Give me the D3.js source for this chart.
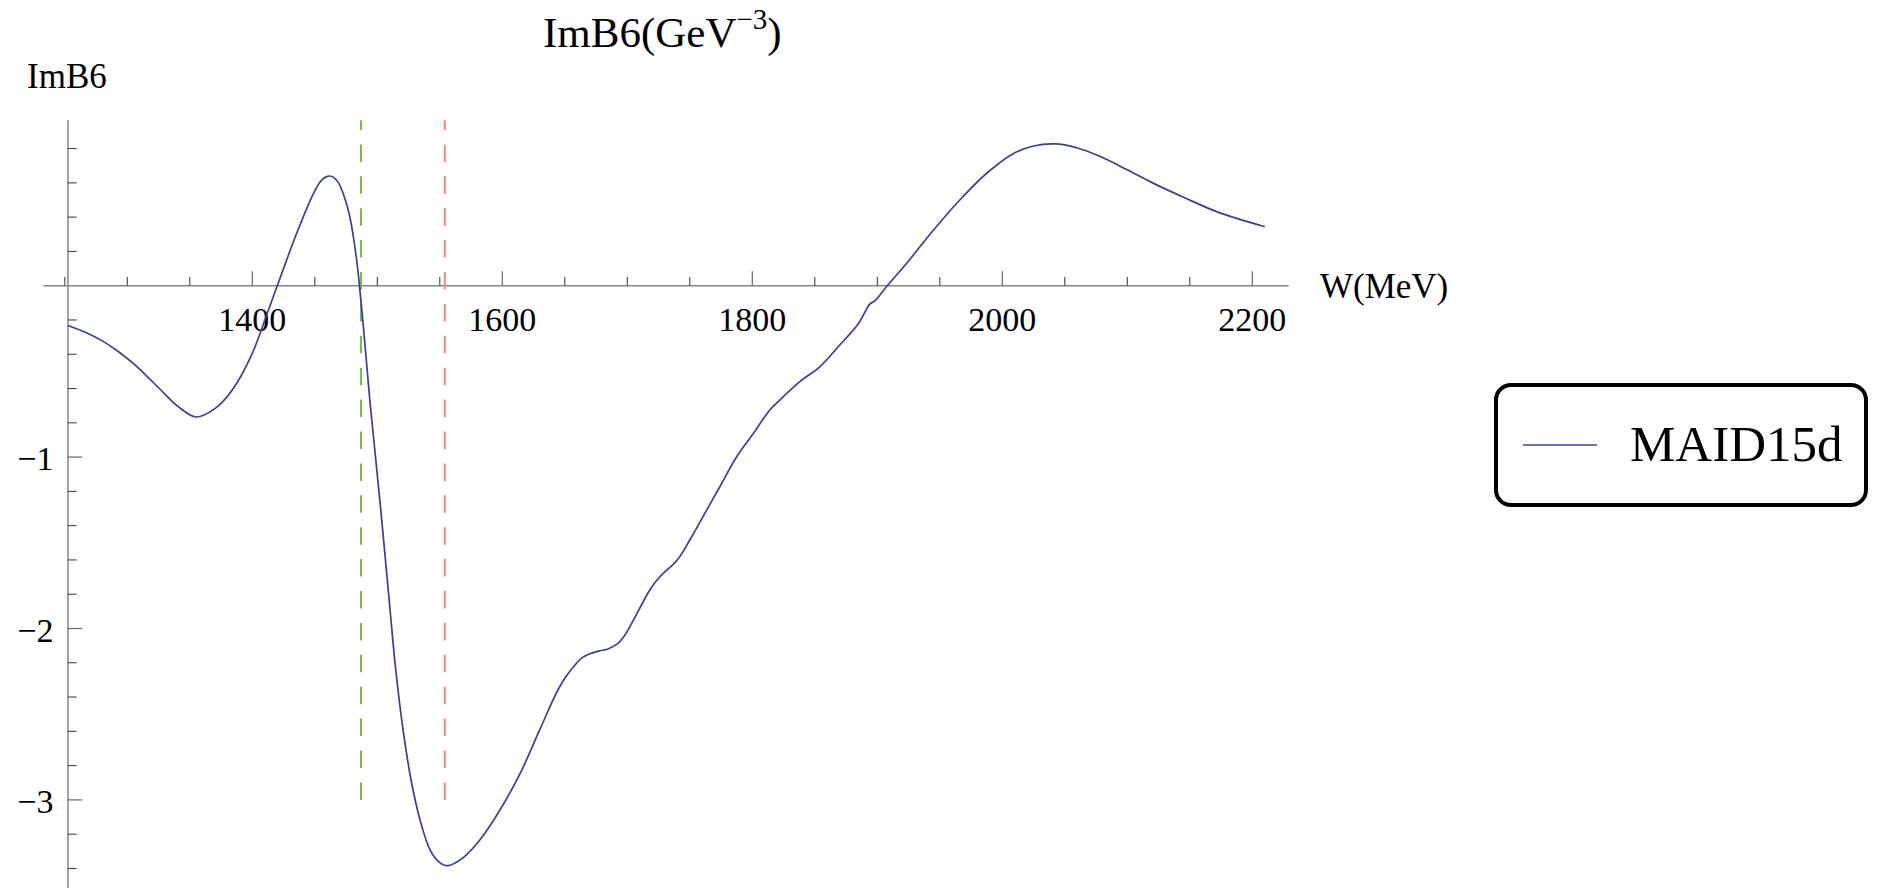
<!DOCTYPE html>
<html>
<head>
<meta charset="utf-8">
<script src="https://cdn.jsdelivr.net/npm/d3@7/dist/d3.min.js"></script>
<style>
  html, body { margin: 0; padding: 0; background: #fff; }
  svg { display: block; font-family: "Liberation Serif", "DejaVu Serif", serif; }
</style>
</head>
<body>
<svg id="chart" width="1881" height="888"></svg>
<script>
// MAID15d: imaginary part of amplitude B6 versus W
const energyW = [1252.5, 1266, 1280, 1293, 1305, 1316, 1327, 1341, 1355, 1370, 1384,
  1399, 1413, 1420, 1435.5, 1449, 1455, 1459, 1462, 1465, 1469, 1474, 1478, 1483.5, 1486, 1489,
  1494, 1502, 1509.5, 1514.5, 1521, 1527.5, 1534.2, 1542.2, 1549, 1556, 1569, 1582, 1598, 1614,
  1630, 1643, 1650, 1657, 1664, 1671, 1678, 1684, 1692, 1698, 1705, 1718, 1726, 1740, 1750, 1763.5,
  1774, 1787.5, 1801, 1814, 1822, 1838, 1854, 1870, 1885, 1894, 1898, 1908, 1923.5, 1945,
  1966, 1987.5, 2009, 2025, 2042, 2059.5, 2078, 2099.5, 2121, 2145, 2171.5, 2210];
const imB6 = [-0.232, -0.27, -0.322, -0.385, -0.455, -0.53, -0.61, -0.707, -0.766, -0.717, -0.608,
  -0.411, -0.14, 0.0, 0.306, 0.539, 0.612, 0.635, 0.64, 0.632, 0.6, 0.51, 0.403, 0.15, -0.02, -0.25,
  -0.667, -1.25, -1.834, -2.223, -2.612, -2.903, -3.117, -3.292, -3.36, -3.384, -3.335, -3.234, -3.06, -2.85,
  -2.59, -2.38, -2.29, -2.223, -2.17, -2.145, -2.13, -2.121, -2.09, -2.04, -1.95, -1.775, -1.698, -1.6, -1.484, -1.309,
  -1.173, -0.998, -0.861, -0.725, -0.667, -0.56, -0.473, -0.346, -0.22, -0.107, -0.089, 0.0, 0.131, 0.325,
  0.5, 0.656, 0.772, 0.815, 0.827, 0.805, 0.755, 0.678, 0.597, 0.516, 0.432, 0.344];

// threshold markers (W in MeV)
const markerW = [1487, 1554];
const markerColors = ["#6cbf45", "#f58585"];

const xMajorTicks = [1400, 1600, 1800, 2000, 2200];
const xMinorTicks = [1250, 1300, 1350, 1450, 1500, 1550, 1650, 1700, 1750, 1850, 1900, 1950, 2050, 2100, 2150];
const yMajorTicks = [-1, -2, -3];
const yMinorTicks = [0.8, 0.6, 0.4, 0.2, -0.2, -0.4, -0.6, -0.8, -1.2, -1.4, -1.6, -1.8,
  -2.2, -2.4, -2.6, -2.8, -3.2, -3.4];

const seriesName = "MAID15d";

const svg = d3.select("#chart");

const x = d3.scaleLinear().domain([1400, 2200]).range([252.3, 1252.3]);
const y = d3.scaleLinear().domain([0, -3]).range([285.7, 799.9]);

const xAxisStart = 1233, xAxisEnd = 2229;
const yAxisTop = 0.965;
const x0 = x(energyW[0]);
const yZero = y(0);

const lineColor = "#3d3d99";
const axisColor = "#858585";

// axes lines
svg.append("line")
  .attr("x1", x(xAxisStart)).attr("x2", x(xAxisEnd))
  .attr("y1", yZero).attr("y2", yZero)
  .attr("stroke", axisColor).attr("stroke-width", 1.5);
svg.append("line")
  .attr("x1", x0).attr("x2", x0)
  .attr("y1", y(yAxisTop)).attr("y2", 888)
  .attr("stroke", axisColor).attr("stroke-width", 1.5);

// x ticks (pointing up)
svg.selectAll(".xmaj").data(xMajorTicks).enter().append("line")
  .attr("x1", d => x(d)).attr("x2", d => x(d))
  .attr("y1", yZero).attr("y2", yZero - 14.4)
  .attr("stroke", "#666").attr("stroke-width", 1.2);
svg.selectAll(".xmin").data(xMinorTicks).enter().append("line")
  .attr("x1", d => x(d)).attr("x2", d => x(d))
  .attr("y1", yZero).attr("y2", yZero - 8.7)
  .attr("stroke", "#333").attr("stroke-width", 1);
svg.selectAll(".xlab").data(xMajorTicks).enter().append("text")
  .attr("x", d => x(d)).attr("y", 331)
  .attr("text-anchor", "middle")
  .attr("font-size", 34).attr("fill", "#000")
  .text(d => d);

// y ticks (pointing right)
svg.selectAll(".ymaj").data(yMajorTicks).enter().append("line")
  .attr("x1", x0).attr("x2", x0 + 14.3)
  .attr("y1", d => y(d)).attr("y2", d => y(d))
  .attr("stroke", "#666").attr("stroke-width", 1.2);
svg.selectAll(".ymin").data(yMinorTicks).enter().append("line")
  .attr("x1", x0).attr("x2", x0 + 8.7)
  .attr("y1", d => y(d)).attr("y2", d => y(d))
  .attr("stroke", "#333").attr("stroke-width", 1);
svg.selectAll(".ylab").data(yMajorTicks).enter().append("text")
  .attr("x", 53.5).attr("y", d => y(d) + 13.2)
  .attr("text-anchor", "end")
  .attr("font-size", 34).attr("fill", "#000")
  .text(d => "\u2212" + Math.abs(d));

// threshold dashed lines
svg.selectAll(".marker").data(markerW).enter().append("line")
  .attr("x1", d => x(d)).attr("x2", d => x(d))
  .attr("y1", y(-3)).attr("y2", y(yAxisTop))
  .attr("stroke", (d, i) => markerColors[i])
  .attr("stroke-width", 2)
  .attr("stroke-dasharray", "17.5,14.4");

// curve
const pts = energyW.map((w, i) => [w, imB6[i]]);
svg.append("path")
  .datum(pts)
  .attr("fill", "none")
  .attr("stroke", lineColor)
  .attr("stroke-width", 1.7)
  .attr("stroke-linejoin", "round")
  .attr("d", d3.line().x(d => x(d[0])).y(d => y(d[1])).curve(d3.curveCatmullRom.alpha(0.5)));

// title
const title = svg.append("text")
  .attr("x", 543).attr("y", 46.7)
  .attr("font-size", 43).attr("fill", "#000");
title.append("tspan").text("ImB6(GeV");
title.append("tspan").attr("font-size", 29).attr("dy", -18).text("\u22123");
title.append("tspan").attr("dy", 18).text(")");

// axis labels
svg.append("text").attr("x", 27).attr("y", 88.3)
  .attr("font-size", 35).attr("fill", "#000").text("ImB6");
svg.append("text").attr("x", 1320).attr("y", 298)
  .attr("font-size", 35).attr("fill", "#000").text("W(MeV)");

// legend
const legend = svg.append("g");
legend.append("rect")
  .attr("x", 1496).attr("y", 385).attr("width", 370).attr("height", 120)
  .attr("rx", 15).attr("ry", 15)
  .attr("fill", "#fff").attr("stroke", "#000").attr("stroke-width", 4);
legend.append("line")
  .attr("x1", 1523).attr("x2", 1597).attr("y1", 445).attr("y2", 445)
  .attr("stroke", lineColor).attr("stroke-width", 1.7);
legend.append("text")
  .attr("x", 1630).attr("y", 460.5)
  .attr("font-size", 51).attr("fill", "#000")
  .text(seriesName);
</script>
</body>
</html>
